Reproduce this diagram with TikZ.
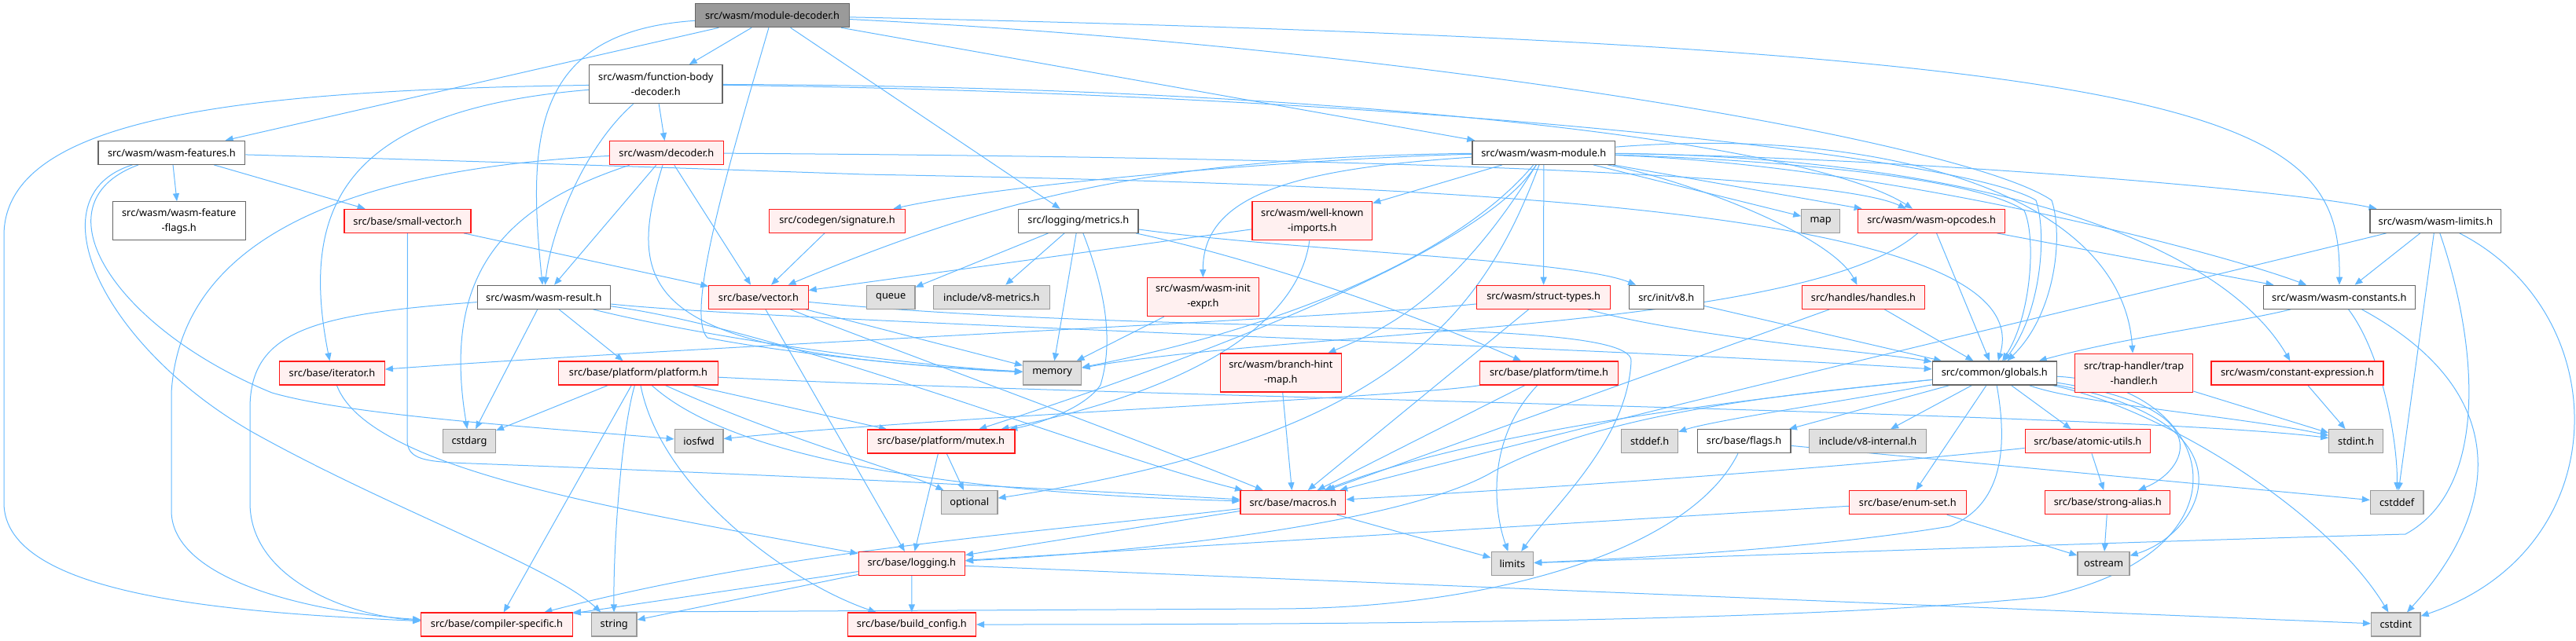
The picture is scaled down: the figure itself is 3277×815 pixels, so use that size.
\documentclass[tikz,border=0pt]{standalone}
\usepackage{fontspec}
\setmainfont{Noto Sans}
\usetikzlibrary{arrows.meta}
\definecolor{edgec}{HTML}{63B8FF}
\definecolor{bred}{HTML}{FF1A1A}
\definecolor{fred}{HTML}{FFF0F0}
\definecolor{bgrey}{HTML}{999999}
\definecolor{fgrey}{HTML}{E0E0E0}
\definecolor{bwhite}{HTML}{666666}
\definecolor{fmain}{HTML}{9A9A9A}
\pgfdeclarelayer{edges}
\pgfsetlayers{edges,main}
\tikzset{
  box/.style={draw, line width=1.2pt, minimum height=30pt, inner sep=0pt, align=center, font=\fontsize{12.8}{19}\selectfont, text=black},
  wbox/.style={box, draw=bwhite, fill=white},
  rbox/.style={box, draw=bred, fill=fred},
  gbox/.style={box, draw=bgrey, fill=fgrey},
  mbox/.style={box, draw=bwhite, fill=fmain},
  tall/.style={minimum height=49pt},
  e/.style={draw=edgec, line width=1pt, -{Triangle[length=10pt,width=8pt]}},
}
\begin{document}
\begin{tikzpicture}[x=1pt,y=-1pt]
\useasboundingbox (0,0) rectangle (3277,815);
% row 0
\node[mbox, minimum width=195.8pt] (MD) at (982.5,19.7) {src/wasm/module-decoder.h};
% row 1
\node[wbox, tall, minimum width=169.3pt] (FBD) at (834.3,107.2) {src/wasm/function-body\\-decoder.h};
% row 2
\node[wbox, minimum width=186.8pt] (WF) at (218.4,194.3) {src/wasm/wasm-features.h};
\node[rbox, minimum width=145pt] (DEC) at (847.9,194.7) {src/wasm/decoder.h};
\node[wbox, minimum width=181.8pt] (WM) at (1963.8,194.3) {src/wasm/wasm-module.h};
% row 3
\node[wbox, tall, minimum width=168.9pt] (WFF) at (227.7,281.3) {src/wasm/wasm-feature\\-flags.h};
\node[rbox, minimum width=161pt] (SV) at (518.4,281.3) {src/base/small-vector.h};
\node[rbox, minimum width=172.8pt] (SIG) at (1065,281.3) {src/codegen/signature.h};
\node[wbox, minimum width=152.2pt] (MET) at (1371.8,281.3) {src/logging/metrics.h};
\node[rbox, tall, minimum width=152.8pt] (WKI) at (1669.3,281.3) {src/wasm/well-known\\-imports.h};
\node[gbox, minimum width=48.6pt] (MAP) at (2316.1,281.3) {map};
\node[rbox, minimum width=187.1pt] (OPC) at (2457.1,281.3) {src/wasm/wasm-opcodes.h};
\node[wbox, minimum width=166.7pt] (LIM) at (3098.4,281.3) {src/wasm/wasm-limits.h};
% row 4
\node[wbox, minimum width=169.3pt] (RES) at (691.8,378.3) {src/wasm/wasm-result.h};
\node[rbox, minimum width=126.4pt] (VEC) at (965,378.3) {src/base/vector.h};
\node[gbox, minimum width=61.4pt] (QUE) at (1133.2,378.3) {queue};
\node[gbox, minimum width=147.9pt] (V8M) at (1261.4,378.3) {include/v8-metrics.h};
\node[rbox, tall, minimum width=142.1pt] (INIT) at (1530.4,378.2) {src/wasm/wasm-init\\-expr.h};
\node[rbox, minimum width=170pt] (ST) at (1963.6,378.3) {src/wasm/struct-types.h};
\node[wbox, minimum width=94.6pt] (V8H) at (2119.8,378.3) {src/init/v8.h};
\node[rbox, minimum width=156.1pt] (HAN) at (2370.5,378.3) {src/handles/handles.h};
\node[wbox, minimum width=193.2pt] (CON) at (2975.8,378.3) {src/wasm/wasm-constants.h};
% row 5
\node[rbox, minimum width=133.6pt] (ITR) at (422.5,475) {src/base/iterator.h};
\node[rbox, minimum width=202.5pt] (PLAT) at (812,475) {src/base/platform/platform.h};
\node[gbox, minimum width=74.3pt] (MEM) at (1338.6,475) {memory};
\node[rbox, tall, minimum width=153.6pt] (BHM) at (1629.3,474.5) {src/wasm/branch-hint\\-map.h};
\node[rbox, minimum width=176.1pt] (TIME) at (1970.5,475) {src/base/platform/time.h};
\node[wbox, minimum width=158.2pt] (GLO) at (2537.3,475) {src/common/globals.h};
\node[rbox, tall, minimum width=150.2pt] (TRAP) at (2714.7,474.8) {src/trap-handler/trap\\-handler.h};
\node[rbox, minimum width=218.9pt] (CEXP) at (2922.5,475) {src/wasm/constant-expression.h};
% row 6
\node[gbox, minimum width=66.8pt] (CSTDARG) at (597,561.7) {cstdarg};
\node[gbox, minimum width=61.8pt] (IOSFWD) at (889.1,561.7) {iosfwd};
\node[rbox, minimum width=187.9pt] (MUT) at (1197.1,562) {src/base/platform/mutex.h};
\node[gbox, minimum width=72.1pt] (STDDEF) at (2098.6,561.8) {stddef.h};
\node[wbox, minimum width=118.6pt] (FLAGS) at (2218.6,561.8) {src/base/flags.h};
\node[gbox, minimum width=149.3pt] (V8I) at (2376.1,561.8) {include/v8-internal.h};
\node[rbox, minimum width=159.6pt] (ATOM) at (2655.9,561.8) {src/base/atomic-utils.h};
\node[gbox, minimum width=68.5pt] (STDINT) at (2997,561.8) {stdint.h};
% row 7
\node[gbox, minimum width=71.4pt] (OPT) at (1233.2,639.7) {optional};
\node[rbox, minimum width=133.9pt] (MAC) at (1644.9,639.7) {src/base/macros.h};
\node[rbox, minimum width=148.6pt] (ENUM) at (2426.8,639.7) {src/base/enum-set.h};
\node[rbox, minimum width=158.9pt] (SA) at (2681.3,639.7) {src/base/strong-alias.h};
\node[gbox, minimum width=67.7pt] (CSTDDEF) at (3049.2,639.7) {cstddef};
% row 8
\node[rbox, minimum width=135.4pt] (LOG) at (1159.8,717.5) {src/base/logging.h};
\node[gbox, minimum width=53.6pt] (LIMITS) at (1923.9,717.5) {limits};
\node[gbox, minimum width=66pt] (OSTREAM) at (2676,717.5) {ostream};
% row 9
\node[rbox, minimum width=192.5pt] (CS) at (632,795) {src/base/compiler-specific.h};
\node[gbox, minimum width=57.5pt] (STR) at (781.3,795) {string};
\node[rbox, minimum width=163pt] (BC) at (1159.9,795) {src/base/build\_config.h};
\node[gbox, minimum width=62.5pt] (CSTDINT) at (3047.8,795) {cstdint};

\begin{pgfonlayer}{edges}
% MD
\draw[e] (MD) -- (FBD);
\draw[e] (MD) -- (WF);
\draw[e] (MD) .. controls (680,40) and (670,170) .. (RES);
\draw[e] (MD) -- (MET);
\draw[e] (MD) -- (WM);
\draw[e] (MD) .. controls (2850,60) and (2978,150) .. (CON);
\draw[e] (MD) .. controls (1800,60) and (2500,180) .. (2610,255) .. controls (2625,300) and (2615,400) .. (GLO);
\draw[e] (MD) .. controls (930,200) and (870,400) .. (900,430) .. controls (1000,450) and (1200,470) .. (MEM);
% FBD
\draw[e] (FBD) -- (DEC);
\draw[e] (FBD) .. controls (740,190) and (700,300) .. (RES);
\draw[e] (FBD) .. controls (300,115) and (5,150) .. (5,300) -- (5,640) .. controls (5,760) and (300,780) .. (CS);
\draw[e] (FBD) .. controls (440,140) and (380,260) .. (ITR);
\draw[e] (FBD) .. controls (1700,110) and (2300,180) .. (OPC);
\draw[e] (FBD) .. controls (1800,120) and (2500,200) .. (2590,255) .. controls (2605,300) and (2595,400) .. (GLO);
% WF
\draw[e] (WF) -- (WFF);
\draw[e] (WF) -- (SV);
\draw[e] (WF) .. controls (600,205) and (900,215) .. (1100,222) .. controls (1800,235) and (2600,260) .. (GLO);
\draw[e] (WF) .. controls (40,250) and (130,440) .. (321,550) .. controls (500,650) and (700,720) .. (STR);
\draw[e] (WF) .. controls (40,260) and (150,420) .. (346,500) .. controls (450,530) and (700,545) .. (IOSFWD);
% DEC
\draw[e] (DEC) -- (RES);
\draw[e] (DEC) -- (VEC);
\draw[e] (DEC) .. controls (450,215) and (230,300) .. (218,500) -- (218,650) .. controls (218,740) and (400,780) .. (CS);
\draw[e] (DEC) .. controls (650,260) and (560,340) .. (CSTDARG);
\draw[e] (DEC) .. controls (790,380) and (830,450) .. (MEM);
\draw[e] (DEC) .. controls (1700,200) and (2330,220) .. (OPC);
% RES
\draw[e] (RES) .. controls (400,400) and (318,420) .. (318,520) -- (318,640) .. controls (318,740) and (450,785) .. (CS);
\draw[e] (RES) -- (CSTDARG);
\draw[e] (RES) -- (PLAT);
\draw[e] (RES) .. controls (900,430) and (1150,465) .. (MEM);
\draw[e] (RES) .. controls (1000,420) and (1400,580) .. (MAC);
\draw[e] (RES) .. controls (1000,410) and (2000,440) .. (GLO);
% VEC
\draw[e] (VEC) -- (LOG);
\draw[e] (VEC) -- (MEM);
\draw[e] (VEC) .. controls (1150,450) and (1450,560) .. (MAC);
\draw[e] (VEC) .. controls (1500,430) and (2080,400) .. (2075,460) .. controls (2070,560) and (1980,640) .. (LIMITS);
% SV
\draw[e] (SV) -- (VEC);
\draw[e] (SV) -- (518,560) .. controls (518,585) and (540,588) .. (600,590) .. controls (1000,605) and (1300,620) .. (MAC);
% SIG
\draw[e] (SIG) -- (VEC);
% MET
\draw[e] (MET) -- (QUE);
\draw[e] (MET) -- (V8M);
\draw[e] (MET) -- (MEM);
\draw[e] (MET) .. controls (1410,380) and (1415,440) .. (1400,490) .. controls (1380,520) and (1320,540) .. (MUT);
\draw[e] (MET) .. controls (1600,330) and (1800,400) .. (TIME);
\draw[e] (MET) .. controls (1650,320) and (2000,330) .. (V8H);
% WKI
\draw[e] (WKI) -- (VEC);
\draw[e] (WKI) .. controls (1650,420) and (1500,500) .. (MUT);
% WM
\draw[e] (WM) -- (WKI);
\draw[e] (WM) .. controls (1700,200) and (1300,230) .. (SIG);
\draw[e] (WM) .. controls (1640,215) and (1530,250) .. (INIT);
\draw[e] (WM) -- (ST);
\draw[e] (WM) -- (MAP);
\draw[e] (WM) -- (OPC);
\draw[e] (WM) .. controls (2400,200) and (2900,240) .. (LIM);
\draw[e] (WM) .. controls (2400,210) and (2820,320) .. (CON);
\draw[e] (WM) .. controls (2150,230) and (2330,300) .. (HAN);
\draw[e] (WM) .. controls (2400,160) and (2700,250) .. (TRAP);
\draw[e] (WM) .. controls (2500,200) and (2820,300) .. (CEXP);
\draw[e] (WM) .. controls (2300,205) and (2520,230) .. (2575,268) .. controls (2590,300) and (2585,400) .. (GLO);
\draw[e] (WM) .. controls (1850,330) and (1620,420) .. (MEM);
\draw[e] (WM) .. controls (1880,330) and (1450,480) .. (MUT);
\draw[e] (WM) .. controls (1450,200) and (1250,260) .. (VEC);
\draw[e] (WM) .. controls (1850,380) and (1760,420) .. (BHM);
\draw[e] (WM) .. controls (1880,420) and (1750,560) .. (OPT);
% INIT, ST, V8H, HAN, OPC
\draw[e] (INIT) -- (MEM);
\draw[e] (ST) .. controls (1700,405) and (900,440) .. (ITR);
\draw[e] (ST) -- (MAC);
\draw[e] (ST) .. controls (2150,430) and (2400,450) .. (GLO);
\draw[e] (V8H) -- (GLO);
\draw[e] (HAN) -- (MAC);
\draw[e] (HAN) -- (GLO);
\draw[e] (OPC) -- (GLO);
\draw[e] (OPC) -- (CON);
\draw[e] (OPC) .. controls (2300,420) and (1650,420) .. (MEM);
% LIM
\draw[e] (LIM) -- (CON);
\draw[e] (LIM) .. controls (2700,380) and (2100,520) .. (MAC);
\draw[e] (LIM) -- (CSTDDEF);
\draw[e] (LIM) .. controls (3150,430) and (3170,620) .. (3060,680) .. controls (2700,690) and (2200,708) .. (LIMITS);
\draw[e] (LIM) .. controls (3330,400) and (3330,700) .. (CSTDINT);
% CON
\draw[e] (CON) .. controls (2850,410) and (2700,430) .. (GLO);
\draw[e] (CON) .. controls (3030,450) and (3050,560) .. (CSTDDEF);
\draw[e] (CON) .. controls (3200,500) and (3180,650) .. (CSTDINT);
% TRAP, CEXP
\draw[e] (TRAP) -- (STDINT);
\draw[e] (CEXP) -- (STDINT);
% PLAT
\draw[e] (PLAT) -- (CSTDARG);
\draw[e] (PLAT) -- (CS);
\draw[e] (PLAT) .. controls (790,550) and (780,700) .. (STR);
\draw[e] (PLAT) .. controls (840,620) and (1000,740) .. (BC);
\draw[e] (PLAT) .. controls (1000,560) and (1150,600) .. (OPT);
\draw[e] (PLAT) .. controls (950,600) and (1300,630) .. (MAC);
\draw[e] (PLAT) -- (MUT);
\draw[e] (PLAT) .. controls (1400,505) and (2700,525) .. (STDINT);
% MUT
\draw[e] (MUT) -- (OPT);
\draw[e] (MUT) -- (LOG);
% TIME
\draw[e] (TIME) -- (MAC);
\draw[e] (TIME) .. controls (1890,560) and (1900,650) .. (LIMITS);
\draw[e] (TIME) .. controls (1800,505) and (1200,530) .. (IOSFWD);
% BHM
\draw[e] (BHM) -- (MAC);
% GLO
\draw[e] (GLO) .. controls (2350,510) and (2180,535) .. (STDDEF);
\draw[e] (GLO) -- (FLAGS);
\draw[e] (GLO) -- (V8I);
\draw[e] (GLO) -- (ATOM);
\draw[e] (GLO) -- (ENUM);
\draw[e] (GLO) .. controls (2830,520) and (2780,600) .. (SA);
\draw[e] (GLO) .. controls (2880,540) and (2800,680) .. (OSTREAM);
\draw[e] (GLO) .. controls (2560,600) and (2530,650) .. (2480,670) .. controls (2300,700) and (2050,712) .. (LIMITS);
\draw[e] (GLO) .. controls (2820,490) and (2880,700) .. (2600,760) .. controls (2300,790) and (1800,795) .. (BC);
\draw[e] (GLO) .. controls (2750,520) and (2960,650) .. (CSTDINT);
\draw[e] (GLO) .. controls (2650,515) and (2850,530) .. (STDINT);
\draw[e] (GLO) .. controls (2300,500) and (1900,540) .. (MAC);
\draw[e] (GLO) .. controls (2300,500) and (2050,520) .. (1900,600) .. controls (1800,660) and (1500,700) .. (LOG);
% FLAGS
\draw[e] (FLAGS) -- (CSTDDEF);
\draw[e] (FLAGS) .. controls (2150,700) and (1900,775) .. (1620,775) -- (CS.north east);
% ATOM, ENUM, SA
\draw[e] (ATOM) .. controls (2300,600) and (1900,625) .. (MAC);
\draw[e] (ATOM) -- (SA);
\draw[e] (ENUM) -- (LOG);
\draw[e] (ENUM) -- (OSTREAM);
\draw[e] (SA) -- (OSTREAM);
% MAC
\draw[e] (MAC) -- (LIMITS);
\draw[e] (MAC) -- (LOG);
\draw[e] (MAC) .. controls (1300,680) and (1000,700) .. (CS);
% LOG
\draw[e] (LOG) -- (BC);
\draw[e] (LOG) -- (CS);
\draw[e] (LOG) -- (STR);
\draw[e] (LOG) -- (CSTDINT);
% ITR
\draw[e] (ITR) .. controls (470,600) and (800,650) .. (LOG);
\end{pgfonlayer}
\end{tikzpicture}
\end{document}
